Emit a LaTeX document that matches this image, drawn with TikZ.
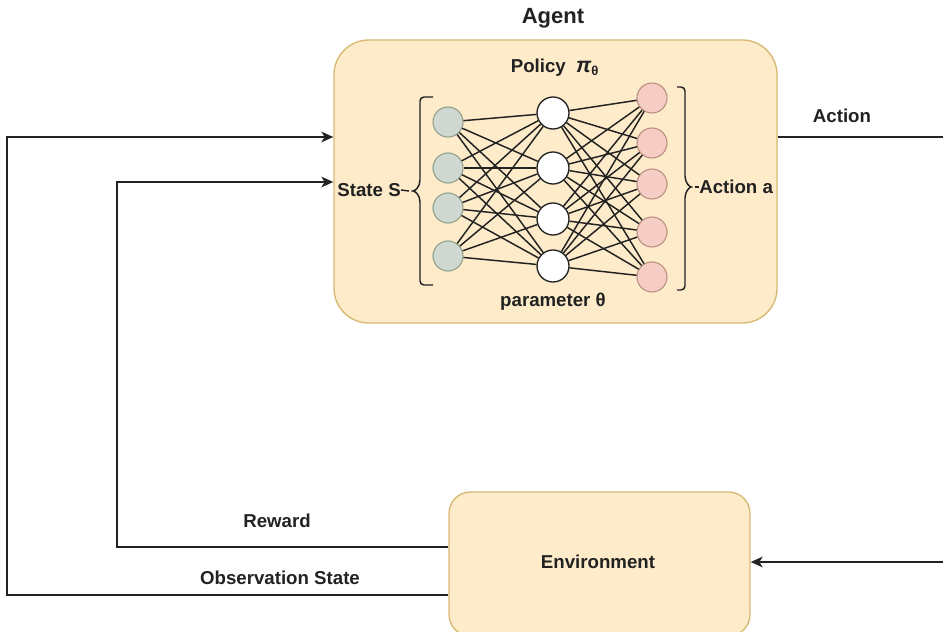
\documentclass[tikz,border=0pt]{standalone}
\usepackage{fontspec}
\setmainfont{Liberation Sans}
\usetikzlibrary{arrows.meta}

\definecolor{boxfill}{HTML}{FDEBC9}
\definecolor{boxline}{HTML}{D8B873}
\definecolor{infill}{HTML}{CFD9D2}
\definecolor{inedge}{HTML}{8E9E8A}
\definecolor{outfill}{HTML}{F5CDC4}
\definecolor{outedge}{HTML}{B98D80}
\definecolor{ink}{HTML}{222222}

\begin{document}
\begin{tikzpicture}[x=0.75pt,y=-0.75pt,
  font=\bfseries\fontsize{14}{16}\selectfont,
  box/.style={draw=boxline, fill=boxfill, line width=1pt, inner sep=0pt},
  inunit/.style={circle, minimum size=22.5pt, inner sep=0pt, draw=inedge, fill=infill, line width=0.8pt},
  hidunit/.style={circle, minimum size=24pt, inner sep=0pt, draw=ink, fill=white, line width=1pt},
  outunit/.style={circle, minimum size=22.5pt, inner sep=0pt, draw=outedge, fill=outfill, line width=0.8pt},
  wire/.style={draw=ink, line width=1.1pt},
  brace/.style={draw=ink, line width=1.1pt, rounded corners=3pt},
  flow/.style={draw=ink, line width=1.3pt},
  tip/.style={-{Stealth[length=9pt,width=8pt,inset=2.5pt]}},
  lbl/.style={inner sep=0pt, text=ink}
]
\useasboundingbox (0,0) rectangle (943,632);

% Agent and environment boxes
\node[box, rounded corners=26pt, minimum width=332.25pt, minimum height=212.25pt] (agent) at (555.5,181.5) {};
\node[box, rounded corners=16pt, minimum width=225.75pt, minimum height=108pt] (env) at (599.5,564) {};
\node[lbl] (envtext) at (598,562) {Environment};

% Titles inside and above the agent
\node[lbl, font=\bfseries\fontsize{16.5}{18}\selectfont] (agenttitle) at (553,18) {Agent};
\node[lbl] (policy) at (555,68) {Policy\ \ {\fontsize{16}{18}\selectfont\itshape π}\textsubscript{θ}};
\node[lbl] (param) at (553,302) {parameter θ};

% Network layers
\node[inunit] (in1) at (448,122) {};
\node[inunit] (in2) at (448,168) {};
\node[inunit] (in3) at (448,208) {};
\node[inunit] (in4) at (448,256) {};

\node[hidunit] (h1) at (553,113) {};
\node[hidunit] (h2) at (553,168) {};
\node[hidunit] (h3) at (553,219) {};
\node[hidunit] (h4) at (553,266) {};

\node[outunit] (o1) at (652,98) {};
\node[outunit] (o2) at (652,143) {};
\node[outunit] (o3) at (652,184) {};
\node[outunit] (o4) at (652,232) {};
\node[outunit] (o5) at (652,277) {};

\foreach \i in {1,...,4}
  \foreach \j in {1,...,4}
    \draw[wire] (in\i) -- (h\j);
\foreach \j in {1,...,4}
  \foreach \k in {1,...,5}
    \draw[wire] (h\j) -- (o\k);

% Input brace with its label
\node[lbl, anchor=east] (statelbl) at (401,190) {State S};
\coordinate (lcusp) at (409,191);
\draw[brace] (433,97) -- (420,97) -- (420,176)
  .. controls (420,187) and (415,191) .. (lcusp)
  .. controls (415,191) and (420,195) .. (420,206)
  -- (420,285) -- (433,285);
\draw[wire] (statelbl.east) -- (lcusp);

% Output brace with its label
\node[lbl, anchor=west] (actionlbl) at (699,187) {Action a};
\coordinate (rcusp) at (695,187);
\draw[brace] (677,87) -- (685,87) -- (685,172)
  .. controls (685,183) and (690,187) .. (rcusp)
  .. controls (690,187) and (685,191) .. (685,202)
  -- (685,290) -- (677,290);
\draw[wire] (rcusp) -- (actionlbl.west);

% Feedback loops
\coordinate (obsL) at (7,595);
\coordinate (obsT) at (7,137);
\coordinate (rewL) at (117,547);
\coordinate (rewT) at (117,182);
\coordinate (actR) at (947,137);
\coordinate (actB) at (947,562);

\draw[flow, tip] (env.west |- obsL) -- (obsL) -- (obsT) -- (agent.west |- obsT);
\draw[flow, tip] (env.west |- rewL) -- (rewL) -- (rewT) -- (agent.west |- rewT);
\draw[flow, tip] (agent.east |- actR) -- (actR) -- (actB) -- (env.east |- actB);

\node[lbl] (actiontext) at (842,116) {Action};
\node[lbl] (rewardtext) at (277,521) {Reward};
\node[lbl] (obstext) at (280,578) {Observation State};
\end{tikzpicture}
\end{document}
